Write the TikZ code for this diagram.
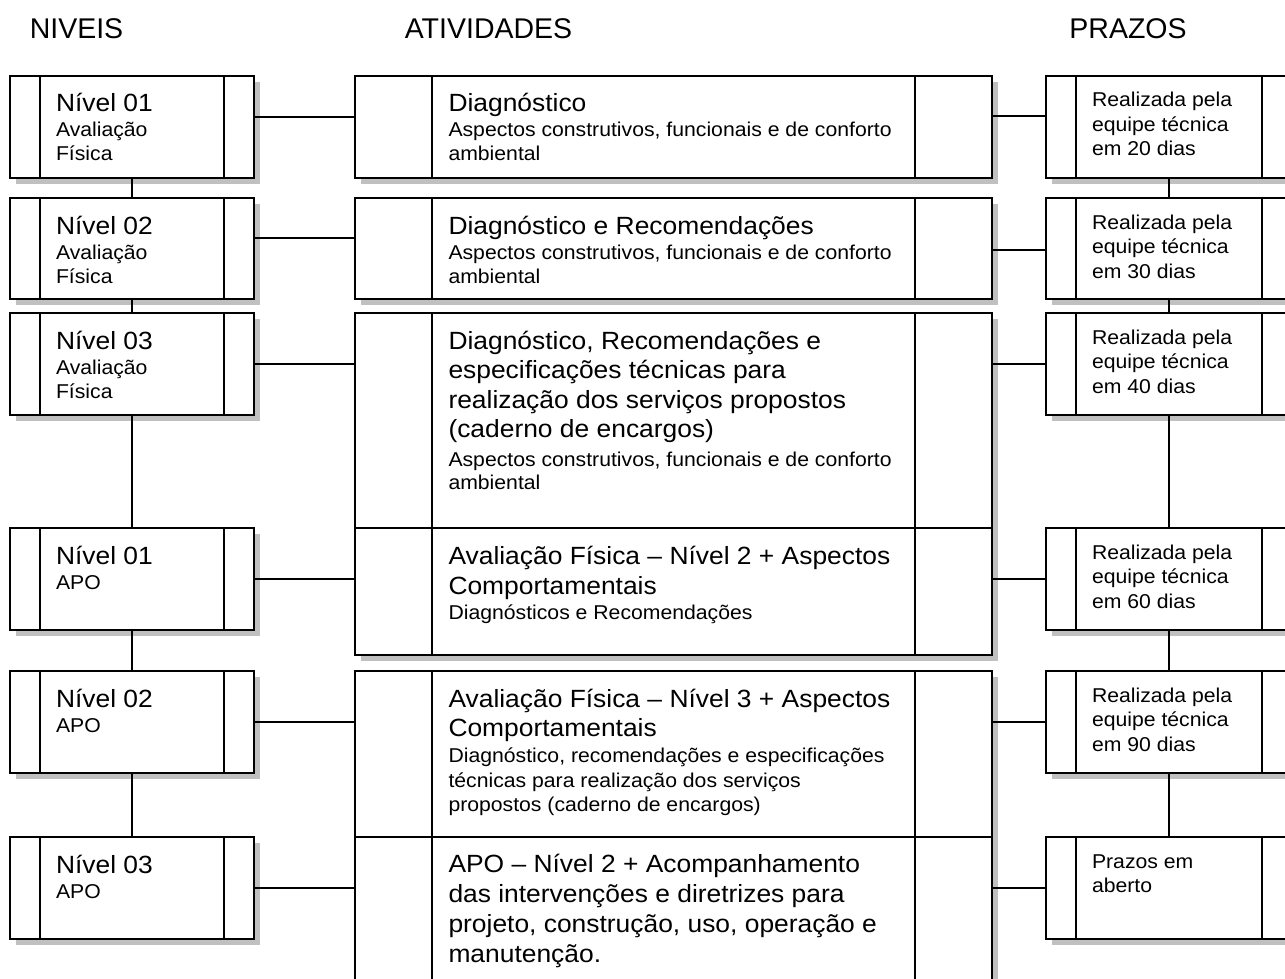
\documentclass[tikz,border=0pt]{standalone}
\usepackage{fontspec}
\setmainfont{Liberation Sans}
\newfontfamily\boxfont[FakeStretch=1.06]{Liberation Sans}
\usetikzlibrary{calc}
\pgfdeclarelayer{back}
\pgfdeclarelayer{bg}
\pgfsetlayers{back,bg,main}
\definecolor{shadowgray}{HTML}{C0C0C0}
\newcommand\tbigf{\boxfont\fontsize{24.9}{30}\selectfont}
\newcommand\tsmallf{\boxfont\fontsize{20}{24}\selectfont}
\newcommand\tbig[1]{\hbox{\tbigf #1}}
\newcommand\tsmall[1]{\hbox{\tsmallf #1}}
\newcommand\tlead[1]{\baselineskip=#1pt\relax}
\newcommand\tblock[1]{\vtop{\lineskiplimit=-100pt\lineskip=0pt #1}}
\newcommand\mkbox[6]{%
  \node[bx, minimum width=#4pt, minimum height=#5pt] (#1) at (#2,#3) {};
  \draw[bar] ([xshift=#6pt]#1.north west) -- ([xshift=#6pt]#1.south west);
  \draw[bar] ([xshift=-#6pt]#1.north east) -- ([xshift=-#6pt]#1.south east);
  \begin{pgfonlayer}{bg}
    \fill[shd] ([shift={(6pt,-6pt)}]#1.north west) rectangle ([shift={(6pt,-6pt)}]#1.south east);
  \end{pgfonlayer}}
\begin{document}
\begin{tikzpicture}[x=1pt,y=-1pt,
  shd/.style={fill=shadowgray,draw=none},
  bx/.style={draw,fill=white,line width=1.8pt,anchor=north west,inner sep=0pt,outer sep=0pt},
  bar/.style={line width=1.8pt},
  conn/.style={line width=1.8pt},
  txt/.style={anchor=base west,inner sep=0pt,outer sep=0pt},
  hdr/.style={font=\fontsize{28.5}{30}\selectfont,anchor=base,inner sep=0pt}]
\useasboundingbox (0,0) rectangle (1285,979);
\begin{pgfonlayer}{back}
\fill[white] (0,0) rectangle (1285,979);
\end{pgfonlayer}

% headers
\node[hdr] (h1) at (76.5,39) {NIVEIS};
\node[hdr] (h2) at (488.5,39) {ATIVIDADES};
\node[hdr] (h3) at (1128,39) {PRAZOS};

% left column
\mkbox{L1}{10}{76}{244}{102}{30}
\mkbox{L2}{10}{198}{244}{101}{30}
\mkbox{L3}{10}{313}{244}{102}{30}
\mkbox{L4}{10}{528}{244}{102}{30}
\mkbox{L5}{10}{671}{244}{102}{30}
\mkbox{L6}{10}{837}{244}{102}{30}
% middle column
\mkbox{M1}{355}{76}{637}{102}{77}
\mkbox{M2}{355}{198}{637}{101}{77}
\mkbox{M3}{355}{313}{637}{215}{77}
\mkbox{M4}{355}{528}{637}{127}{77}
\mkbox{M5}{355}{671}{637}{166}{77}
\mkbox{M6}{355}{837}{637}{170}{77}
% right column
\mkbox{R1}{1046}{76}{246}{102}{30}
\mkbox{R2}{1046}{198}{246}{101}{30}
\mkbox{R3}{1046}{313}{246}{102}{30}
\mkbox{R4}{1046}{528}{246}{102}{30}
\mkbox{R5}{1046}{671}{246}{102}{30}
\mkbox{R6}{1046}{837}{246}{102}{30}

% left texts
\node[txt] (L1t) at ([shift={(46pt,-36pt)}]L1.north west) {\tblock{\tbig{Nível 01}\tlead{25}\tsmall{Avaliação}\tlead{24}\tsmall{Física}}};
\node[txt] (L2t) at ([shift={(46pt,-36pt)}]L2.north west) {\tblock{\tbig{Nível 02}\tlead{25}\tsmall{Avaliação}\tlead{24}\tsmall{Física}}};
\node[txt] (L3t) at ([shift={(46pt,-36pt)}]L3.north west) {\tblock{\tbig{Nível 03}\tlead{25}\tsmall{Avaliação}\tlead{24}\tsmall{Física}}};
\node[txt] (L4t) at ([shift={(46pt,-36pt)}]L4.north west) {\tblock{\tbig{Nível 01}\tlead{25}\tsmall{APO}}};
\node[txt] (L5t) at ([shift={(46pt,-36pt)}]L5.north west) {\tblock{\tbig{Nível 02}\tlead{25}\tsmall{APO}}};
\node[txt] (L6t) at ([shift={(46pt,-36pt)}]L6.north west) {\tblock{\tbig{Nível 03}\tlead{25}\tsmall{APO}}};

% middle texts
\node[txt] (M1t) at ([shift={(93.5pt,-36pt)}]M1.north west) {\tblock{\tbig{Diagnóstico}\tlead{25}\tsmall{Aspectos construtivos, funcionais e de conforto}\tlead{24}\tsmall{ambiental}}};
\node[txt] (M2t) at ([shift={(93.5pt,-36pt)}]M2.north west) {\tblock{\tbig{Diagnóstico e Recomendações}\tlead{25}\tsmall{Aspectos construtivos, funcionais e de conforto}\tlead{24}\tsmall{ambiental}}};
\node[txt] (M3t) at ([shift={(93.5pt,-36pt)}]M3.north west) {\tblock{\tlead{29.5}\tbig{Diagnóstico, Recomendações e}\tbig{especificações técnicas para}\tbig{realização dos serviços propostos}\tbig{(caderno de encargos)}\tlead{29}\tsmall{Aspectos construtivos, funcionais e de conforto}\tlead{23}\tsmall{ambiental}}};
\node[txt] (M4t) at ([shift={(93.5pt,-36pt)}]M4.north west) {\tblock{\tlead{30}\tbig{Avaliação Física – Nível 2 + Aspectos}\tbig{Comportamentais}\tlead{25}\tsmall{Diagnósticos e Recomendações}}};
\node[txt] (M5t) at ([shift={(93.5pt,-36pt)}]M5.north west) {\tblock{\tlead{29.5}\tbig{Avaliação Física – Nível 3 + Aspectos}\tbig{Comportamentais}\tlead{25.5}\tsmall{Diagnóstico, recomendações e especificações}\tlead{25}\tsmall{técnicas para realização dos serviços}\tlead{24}\tsmall{propostos (caderno de encargos)}}};
\node[txt] (M6t) at ([shift={(93.5pt,-35.5pt)}]M6.north west) {\tblock{\tlead{30}\tbig{APO – Nível 2 + Acompanhamento}\tbig{das intervenções e diretrizes para}\tbig{projeto, construção, uso, operação e}\tbig{manutenção.}}};

% right texts
\node[txt] (R1t) at ([shift={(46pt,-31pt)}]R1.north west) {\tblock{\tlead{24.5}\tsmall{Realizada pela}\tsmall{equipe técnica}\tsmall{em 20 dias}}};
\node[txt] (R2t) at ([shift={(46pt,-31pt)}]R2.north west) {\tblock{\tlead{24.5}\tsmall{Realizada pela}\tsmall{equipe técnica}\tsmall{em 30 dias}}};
\node[txt] (R3t) at ([shift={(46pt,-31pt)}]R3.north west) {\tblock{\tlead{24.5}\tsmall{Realizada pela}\tsmall{equipe técnica}\tsmall{em 40 dias}}};
\node[txt] (R4t) at ([shift={(46pt,-31pt)}]R4.north west) {\tblock{\tlead{24.5}\tsmall{Realizada pela}\tsmall{equipe técnica}\tsmall{em 60 dias}}};
\node[txt] (R5t) at ([shift={(46pt,-31pt)}]R5.north west) {\tblock{\tlead{24.5}\tsmall{Realizada pela}\tsmall{equipe técnica}\tsmall{em 90 dias}}};
\node[txt] (R6t) at ([shift={(46pt,-31pt)}]R6.north west) {\tblock{\tlead{24.5}\tsmall{Prazos em}\tsmall{aberto}}};

% horizontal connectors
\draw[conn] ([yshift=-41pt]L1.north east) -- ([yshift=-41pt]L1.north east -| M1.west);
\draw[conn] ([yshift=-40pt]L2.north east) -- ([yshift=-40pt]L2.north east -| M2.west);
\draw[conn] (L3.east) -- (L3.east -| M3.west);
\draw[conn] (L4.east) -- (L4.east -| M4.west);
\draw[conn] (L5.east) -- (L5.east -| M5.west);
\draw[conn] (L6.east) -- (L6.east -| M6.west);
\draw[conn] ([yshift=-40pt]R1.north west) -- ([yshift=-40pt]R1.north west -| M1.east);
\draw[conn] ([yshift=-52pt]R2.north west) -- ([yshift=-52pt]R2.north west -| M2.east);
\draw[conn] (R3.west) -- (R3.west -| M3.east);
\draw[conn] (R4.west) -- (R4.west -| M4.east);
\draw[conn] (R5.west) -- (R5.west -| M5.east);
\draw[conn] (R6.west) -- (R6.west -| M6.east);

% vertical connectors
\draw[conn] (L1.south) -- (L2.north);
\draw[conn] (L2.south) -- (L3.north);
\draw[conn] (L3.south) -- (L4.north);
\draw[conn] (L4.south) -- (L5.north);
\draw[conn] (L5.south) -- (L6.north);
\draw[conn] (R1.south) -- (R2.north);
\draw[conn] (R2.south) -- (R3.north);
\draw[conn] (R3.south) -- (R4.north);
\draw[conn] (R4.south) -- (R5.north);
\draw[conn] (R5.south) -- (R6.north);
\end{tikzpicture}
\end{document}
